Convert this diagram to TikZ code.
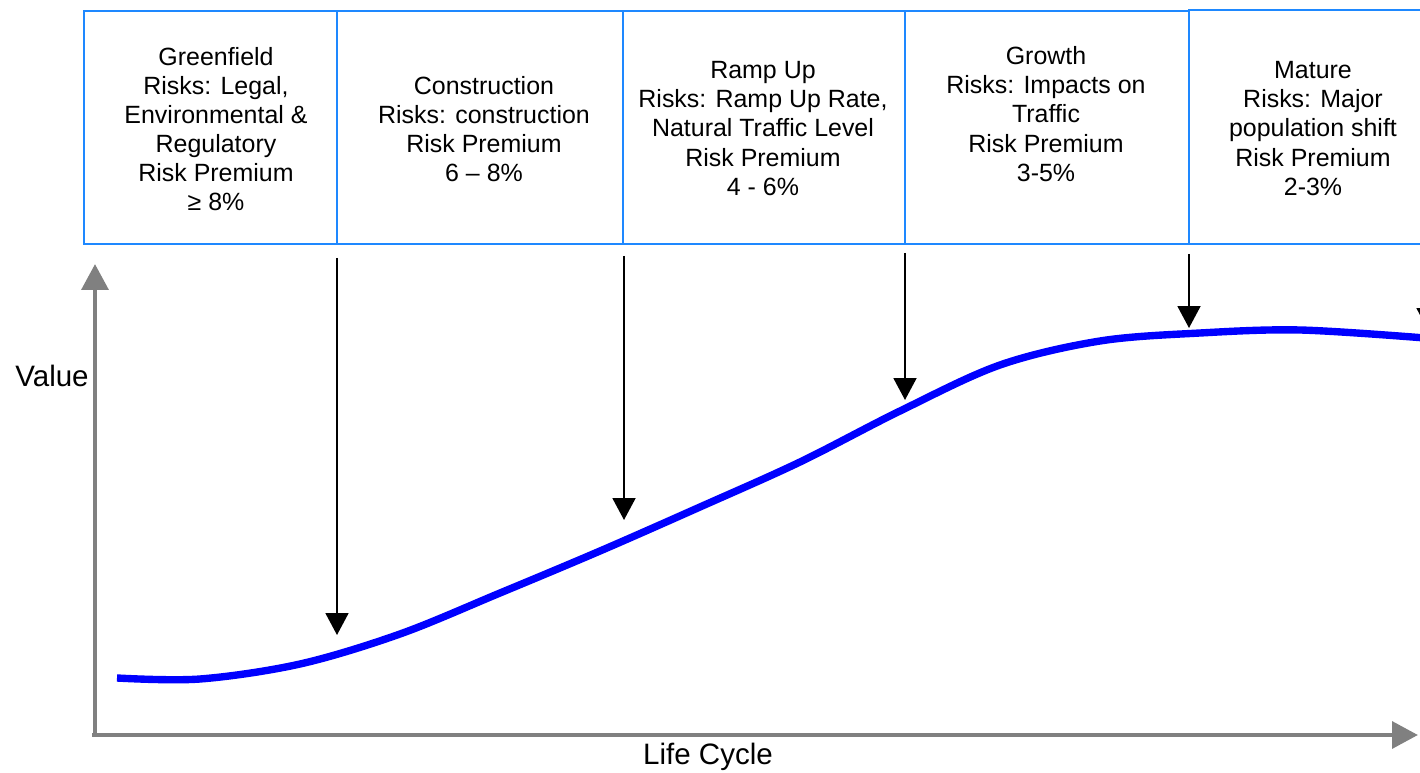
\documentclass[tikz,border=0pt]{standalone}
\usepackage{fontspec}
\setmainfont{Liberation Sans}
\usetikzlibrary{arrows.meta}
\definecolor{boxblue}{RGB}{30,136,255}
\definecolor{axisgray}{RGB}{128,128,128}
\tikzset{
  stagebox/.style={draw=boxblue, line width=1.2pt, inner sep=0pt, anchor=north west},
  stagetext/.style={align=center, font=\fontsize{14.2}{16.6}\selectfont, inner sep=0pt},
  axislabel/.style={font=\fontsize{16.8}{20}\selectfont, inner sep=0pt, anchor=base},
  axisline/.style={draw=axisgray, line width=2.8pt, -{Triangle[length=0.52cm,width=0.53cm]}},
  downarrow/.style={draw=black, line width=1.1pt, -{Triangle[length=0.44cm,width=0.46cm]}},
  valuecurve/.style={draw=blue, line width=4.2pt}
}
\begin{document}
\begin{tikzpicture}[x=0.02cm,y=-0.02cm]
\clip (0,0) rectangle (1420,773);
\fill[white] (0,0) rectangle (1420,773);
% boxes
\node[stagebox, minimum width=253*0.02cm, minimum height=233*0.02cm] (b1) at (83,10) {};
\node[stagebox, minimum width=286*0.02cm, minimum height=233*0.02cm] (b2) at (336,10) {};
\node[stagebox, minimum width=282*0.02cm, minimum height=233*0.02cm] (b3) at (622,10) {};
\node[stagebox, minimum width=284*0.02cm, minimum height=233*0.02cm] (b4) at (904,10) {};
\node[stagebox, minimum width=300*0.02cm, minimum height=234*0.02cm] (b5) at (1188,9) {};
% texts
\node[stagetext] (t1) at (216,129) {Greenfield\\Risks: Legal,\\Environmental \&\\Regulatory\\Risk Premium\\≥ 8\%};
\node[stagetext] (t2) at (484,129) {Construction\\Risks: construction\\Risk Premium\\6 – 8\%};
\node[stagetext] (t3) at (763,128.5) {Ramp Up\\Risks: Ramp Up Rate,\\Natural Traffic Level\\Risk Premium\\4 - 6\%};
\node[stagetext] (t4) at (1046,114) {Growth\\Risks: Impacts on\\Traffic\\Risk Premium\\3-5\%};
\node[stagetext] (t5) at (1313,128.5) {Mature\\Risks: Major\\population shift\\Risk Premium\\2-3\%};
% axes
\coordinate (origin) at (95,735);
\coordinate (ytop) at (95,264);
\coordinate (xend) at (1418,735);
\draw[axisline] (95,737) -- (ytop);
\draw[axisline] (92,735) -- (xend);
\node[axislabel] (vlabel) at (52,387) {Value};
\node[axislabel] (xlabel) at (708,764) {Life Cycle};
% curve
\draw[valuecurve] plot[smooth, tension=0.55] coordinates {(117,678) (200,679) (300,664) (400,634) (500,593) (600,551) (700,507) (800,462) (900,411) (1000,365) (1100,341) (1200,333) (1300,330) (1425,338)};
% arrows
\coordinate (a1s) at (337,258); \coordinate (a1e) at (337,635);
\coordinate (a2s) at (624,256); \coordinate (a2e) at (624,520);
\coordinate (a3s) at (905,253); \coordinate (a3e) at (905,400);
\coordinate (a4s) at (1189,254); \coordinate (a4e) at (1189,328);
\coordinate (a5s) at (1428,254); \coordinate (a5e) at (1428,330);
\draw[downarrow] (a1s) -- (a1e);
\draw[downarrow] (a2s) -- (a2e);
\draw[downarrow] (a3s) -- (a3e);
\draw[downarrow] (a4s) -- (a4e);
\draw[downarrow] (a5s) -- (a5e);
\end{tikzpicture}
\end{document}
